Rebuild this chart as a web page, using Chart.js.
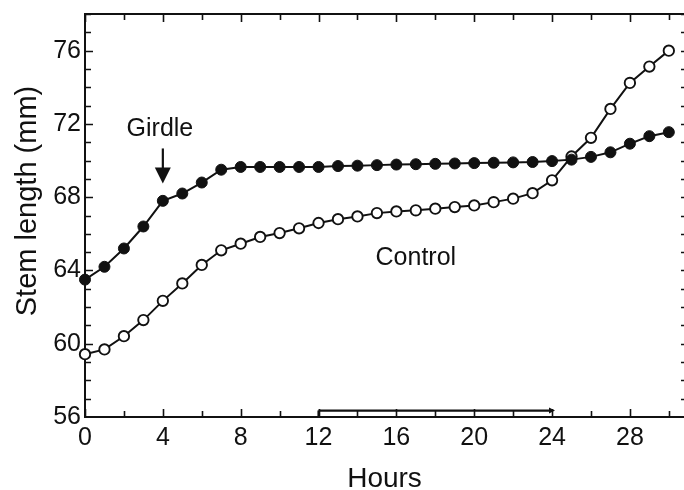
<!DOCTYPE html>
<html lang="en">
    <head>
        <meta charset="UTF-8">
        <title>Stem length</title>
        <style>
            html, body { margin: 0; padding: 0; background: #fff; }
            #wrap { width: 684px; height: 490px; }
        </style>
    </head>
    <body>
        <div id="wrap"><canvas id="stem"></canvas></div>
    </body>

    <script src="https://cdnjs.cloudflare.com/ajax/libs/Chart.js/4.4.1/chart.umd.min.js"></script>

    <script>
        const hours = [0, 1, 2, 3, 4, 5, 6, 7, 8, 9, 10, 11, 12, 13, 14, 15, 16, 17, 18, 19, 20, 21, 22, 23, 24, 25, 26, 27, 28, 29, 30];
        const girdled = [63.5, 64.2, 65.2, 66.4, 67.8, 68.2, 68.8, 69.5, 69.65, 69.65, 69.65, 69.65, 69.65, 69.7, 69.72, 69.75, 69.78, 69.8, 69.82, 69.84, 69.86, 69.88, 69.9, 69.92, 69.97, 70.05, 70.2, 70.45, 70.92, 71.33, 71.55];
        const control = [59.43, 59.69, 60.41, 61.29, 62.34, 63.29, 64.3, 65.1, 65.46, 65.83, 66.04, 66.3, 66.59, 66.8, 66.95, 67.13, 67.22, 67.28, 67.37, 67.46, 67.55, 67.73, 67.92, 68.22, 68.92, 70.22, 71.24, 72.82, 74.24, 75.13, 76.0];
        const xTicks = [0, 4, 8, 12, 16, 20, 24, 28];
        const yTicks = [56, 60, 64, 68, 72, 76];

        const ink = "#111";
        const font = "'Liberation Sans', Arial, sans-serif";

        // inward ticks, frame, arrow, bar and labels
        const extras = {
            id: "extras",
            afterDatasetsDraw(chart) {
                const c = chart.ctx;
                const a = chart.chartArea;
                const x = chart.scales.x, y = chart.scales.y;
                c.save();
                c.strokeStyle = ink;
                c.fillStyle = ink;

                // top frame
                c.lineWidth = 2;
                c.beginPath();
                c.moveTo(a.left, a.top);
                c.lineTo(a.right, a.top);
                c.stroke();

                c.lineWidth = 1.6;
                for (let h = 0; h <= 30; h += 2) {
                    const px = Math.round(x.getPixelForValue(h)) + 0.5;
                    const len = h % 4 === 0 ? 8 : 6;
                    c.beginPath();
                    c.moveTo(px, a.bottom); c.lineTo(px, a.bottom - len);
                    c.moveTo(px, a.top); c.lineTo(px, a.top + len);
                    c.stroke();
                }
                for (let v = 57; v <= 78; v++) {
                    const py = Math.round(y.getPixelForValue(v)) + 0.5;
                    const len = v % 4 === 0 ? 8 : 6;
                    c.beginPath();
                    c.moveTo(a.left, py); c.lineTo(a.left + len, py);
                    c.moveTo(a.right, py); c.lineTo(a.right - 3, py);
                    c.stroke();
                }

                // light bar 12 to 24 h
                const by = y.getPixelForValue(56.35);
                const bx0 = x.getPixelForValue(12), bx1 = x.getPixelForValue(24.15);
                c.lineWidth = 2.2;
                c.beginPath();
                c.moveTo(bx0, by); c.lineTo(bx1 - 3, by);
                c.moveTo(bx0, by); c.lineTo(bx0, a.bottom);
                c.stroke();
                c.beginPath();
                c.moveTo(bx1, by);
                c.lineTo(bx1 - 6, by - 3);
                c.lineTo(bx1 - 6, by + 3);
                c.closePath();
                c.fill();

                // girdle arrow
                const ax = x.getPixelForValue(4);
                const ay0 = y.getPixelForValue(70.66), ay1 = y.getPixelForValue(68.75);
                c.lineWidth = 2.2;
                c.beginPath();
                c.moveTo(ax, ay0); c.lineTo(ax, ay1 - 12);
                c.stroke();
                c.beginPath();
                c.moveTo(ax, ay1);
                c.lineTo(ax - 8, ay1 - 16);
                c.lineTo(ax + 8, ay1 - 16);
                c.closePath();
                c.fill();

                c.font = "25px " + font;
                c.textAlign = "center";
                c.textBaseline = "alphabetic";
                c.fillText("Girdle", x.getPixelForValue(3.85), y.getPixelForValue(71.35));
                c.fillText("Control", x.getPixelForValue(17.0), y.getPixelForValue(64.3));

                // axis titles
                c.font = "28px " + font;
                c.fillText("Hours", (a.left + a.right) / 2, 487);
                c.translate(36, 201);
                c.rotate(-Math.PI / 2);
                c.font = "29px " + font;
                c.fillText("Stem length (mm)", 0, 0);
                c.restore();
            }
        };

        const ctx = document.getElementById("stem").getContext("2d");
        const chart = new Chart(ctx, {
            type: "line",
            data: {
                datasets: [
                    {
                        label: "Girdled",
                        data: hours.map((h, i) => ({ x: h, y: girdled[i] })),
                        borderColor: ink, borderWidth: 2,
                        pointRadius: 5.5, pointBackgroundColor: ink,
                        pointBorderColor: ink, pointBorderWidth: 1,
                        fill: false, tension: 0,
                    },
                    {
                        label: "Control",
                        data: hours.map((h, i) => ({ x: h, y: control[i] })),
                        borderColor: ink, borderWidth: 2,
                        pointRadius: 5.2, pointBackgroundColor: "#fff",
                        pointBorderColor: ink, pointBorderWidth: 1.9,
                        fill: false, tension: 0,
                    },
                ],
            },
            options: {
                responsive: true,
                maintainAspectRatio: false,
                animation: false,
                clip: false,
                layout: { autoPadding: false, padding: { top: 14, right: 0, left: 0, bottom: 0 } },
                plugins: { legend: { display: false }, tooltip: { enabled: false } },
                scales: {
                    x: {
                        type: "linear",
                        min: 0,
                        max: 30.78,
                        afterBuildTicks: s => { s.ticks = xTicks.map(v => ({ value: v })); },
                        afterFit: s => { s.height = 73; s.paddingLeft = 0; s.paddingRight = 0; },
                        grid: { display: false, drawTicks: false },
                        border: { display: true, color: ink, width: 2 },
                        ticks: { color: ink, padding: 6, maxRotation: 0, font: { size: 25, family: font } },
                    },
                    y: {
                        min: 56,
                        max: 78,
                        afterBuildTicks: s => { s.ticks = yTicks.map(v => ({ value: v })); },
                        afterFit: s => { s.width = 85; s.paddingTop = 0; s.paddingBottom = 0; },
                        grid: { display: false, drawTicks: false },
                        border: { display: true, color: ink, width: 2 },
                        ticks: { color: ink, padding: 4, font: { size: 25, family: font } },
                    },
                },
            },
            plugins: [extras],
        });
    </script>
</html>
